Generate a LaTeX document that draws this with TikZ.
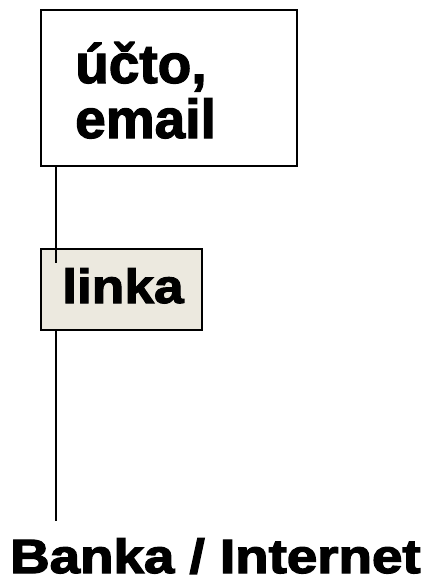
\documentclass[tikz,border=0pt]{standalone}
\usepackage{fontspec}
\setmainfont{Liberation Sans}
\newfontfamily\boxfont{Liberation Sans Bold}[FakeBold=2.2]
\newfontfamily\heavyfont{Liberation Sans Bold}[FakeBold=2.6]
\definecolor{boxfill}{HTML}{ECE9DF}
\begin{document}
\begin{tikzpicture}[x=1pt,y=-1pt,
  frame/.style={draw=black,line width=2pt,rectangle,inner sep=0pt,anchor=north west},
  wire/.style={draw=black,line width=2pt},
  label/.style={anchor=base west,inner sep=0pt,font=\boxfont\fontsize{55}{55}\selectfont}]
  \useasboundingbox (0,0) rectangle (439,578);
  % upper box with its two-line label
  \node[frame,fill=white,minimum width=256pt,minimum height=156pt] (mail) at (40,9) {};
  \node[label] (mailA) at (75,83) {účto,};
  \node[label] (mailB) at (75,138) {email};
  % middle box
  \node[frame,fill=boxfill,minimum width=161pt,minimum height=81pt] (linka) at (40,248) {};
  \node[label,font=\boxfont\fontsize{48}{48}\selectfont] (linkaT) at (62,303) {\scalebox{1.11}[1]{linka}};
  % free ends of the connectors
  \coordinate (tip) at (56,263);
  \coordinate (foot) at (56,521);
  \draw[wire] (mail.south -| tip) -- (tip);
  \draw[wire] (linka.south -| foot) -- (foot);
  % caption at the bottom
  \node[anchor=base west,inner sep=0pt,font=\heavyfont\fontsize{48}{48}\selectfont] (bank) at (10,573) {\scalebox{1.14}[1]{Banka / Internet}};
\end{tikzpicture}
\end{document}
